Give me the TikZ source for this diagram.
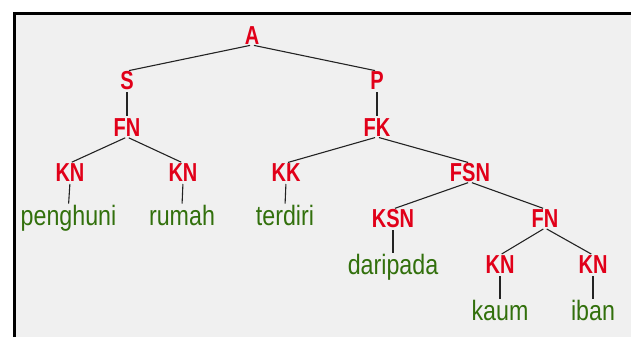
\documentclass[tikz,border=0pt]{standalone}
\usepackage{fontspec}
\newfontfamily\labfont{Liberation Sans}[FakeStretch=0.77]
\newfontfamily\wordfont{Liberation Sans}[FakeStretch=0.83]
\definecolor{labred}{RGB}{225,0,25}
\definecolor{wordgreen}{RGB}{50,112,12}
\definecolor{bggray}{RGB}{240,240,240}
\definecolor{edgegray}{RGB}{35,35,35}
\begin{document}
\begin{tikzpicture}[x=1pt,y=-1pt,
  lab/.style={font=\labfont\bfseries\fontsize{26}{26}\selectfont, text=labred,
    inner sep=0pt, text height=18.6pt, text depth=0pt, anchor=south},
  word/.style={font=\wordfont\fontsize{28}{28}\selectfont, text=wordgreen,
    inner sep=0pt, text height=20pt, text depth=0pt, anchor=south},
  edge/.style={draw=edgegray, line width=1.1pt, shorten <=2pt, shorten >=2pt}]
\useasboundingbox (0,0) rectangle (631,337);
\fill[white] (0,0) rectangle (631,337);
\fill[bggray] (14.5,13.5) rectangle (631,337);
\draw[line width=3pt, line join=miter] (14.5,337) -- (14.5,13.5) -- (631,13.5);

\node[lab] (A) at (252,45) {A};
\node[lab] (S) at (127,90) {S};
\node[lab] (P) at (377,90) {P};
\node[lab] (FN1) at (127,137) {FN};
\node[lab] (FK) at (377,137) {FK};
\node[lab] (KN1) at (70,182) {KN};
\node[lab] (KN2) at (183,182) {KN};
\node[lab] (KK) at (286,182) {KK};
\node[lab] (FSN) at (470,182) {FSN};
\node[word] (w1) at (68.5,226) {penghuni};
\node[word] (w2) at (182,226) {rumah};
\node[word] (w3) at (285,226) {terdiri};
\node[lab] (KSN) at (393,228) {KSN};
\node[lab] (FN2) at (545,228) {FN};
\node[word] (w4) at (393,275) {daripada};
\node[lab] (KN3) at (500,274) {KN};
\node[lab] (KN4) at (593,274) {KN};
\node[word] (w5) at (500,321) {kaum};
\node[word] (w6) at (593,321) {iban};

\draw[edge] (A.south) -- (S.north);
\draw[edge] (A.south) -- (P.north);
\draw[edge] (S.south) -- (FN1.north);
\draw[edge] (P.south) -- (FK.north);
\draw[edge] (FN1.south) -- (KN1.north);
\draw[edge] (FN1.south) -- (KN2.north);
\draw[edge] (FK.south) -- (KK.north);
\draw[edge] (FK.south) -- (FSN.north);
\draw[edge] (KN1.south) -- (w1.north);
\draw[edge] (KN2.south) -- (w2.north);
\draw[edge] (KK.south) -- (w3.north);
\draw[edge] (FSN.south) -- (KSN.north);
\draw[edge] (FSN.south) -- (FN2.north);
\draw[edge] (KSN.south) -- (w4.north);
\draw[edge] (FN2.south) -- (KN3.north);
\draw[edge] (FN2.south) -- (KN4.north);
\draw[edge] (KN3.south) -- (w5.north);
\draw[edge] (KN4.south) -- (w6.north);
\end{tikzpicture}
\end{document}
